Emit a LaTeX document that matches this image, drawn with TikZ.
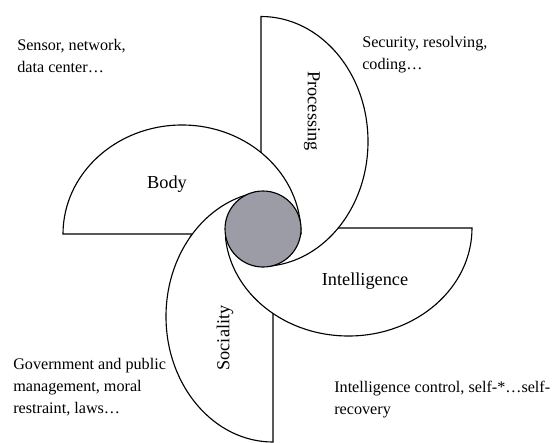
\documentclass[tikz,border=0pt]{standalone}
\usepackage{fontspec}
\setmainfont{Liberation Serif}
\usetikzlibrary{positioning}
\definecolor{hubgray}{RGB}{156,156,166}
\tikzset{blade/.style={draw, fill=white, line width=0.8pt},
         hub/.style={circle, draw, fill=hubgray, line width=0.8pt, minimum size=1.9cm, inner sep=0pt},
         lbl/.style={font=\fontsize{13}{15}\selectfont},
         note/.style={font=\fontsize{11.5}{15.6}\selectfont, align=left, anchor=north west, inner sep=0pt}
}

\begin{document}
\begin{tikzpicture}
       \useasboundingbox (0,0) rectangle (13.95,11.05);
       % blades, each one lying over the next
       \draw[blade] (6.825,0) arc[start angle=270, end angle=90, x radius=2.675, y radius=3.1375] -- cycle;
       \draw[blade] (11.8,5.35) arc[start angle=0, end angle=-180, x radius=3.0875, y radius=2.7] -- cycle;
       \draw[blade] (6.525,10.6375) arc[start angle=90, end angle=-90, x radius=2.675, y radius=3.125] -- cycle;
       \draw[blade] (1.575,5.2) arc[start angle=180, end angle=0, x radius=2.975, y radius=2.725] -- cycle;
       \begin{scope}
         \clip (0,5.15) rectangle (6.575,11.05);
         \draw[blade] (6.825,0) arc[start angle=270, end angle=90, x radius=2.675, y radius=3.1375] -- cycle;
       \end{scope}
       \node[hub] (hub) at (6.575,5.325) {};
       \node[lbl] (body) at (4.175,6.45) {Body};
       \node[lbl, rotate=-90] (proc) at (7.8,8.275) {Processing};
       \node[lbl] (intel) at (9.125,4.025) {Intelligence};
       \node[lbl, rotate=90] (soc) at (5.625,2.6) {Sociality};
       \node[note] (bodynote) at (0.425,10.075) {Sensor, network,\\data center\ldots};
       \node[note] (procnote) at (9.05,10.15) {Security, resolving,\\coding\ldots};
       \node[note] (socnote) at (0.325,2.1) {Government and public\\management, moral\\restraint, laws\ldots};
       \node[note] (intelnote) at (8.35,1.525) {Intelligence control, self-*\ldots self-\\recovery};
\end{tikzpicture}
\end{document}
